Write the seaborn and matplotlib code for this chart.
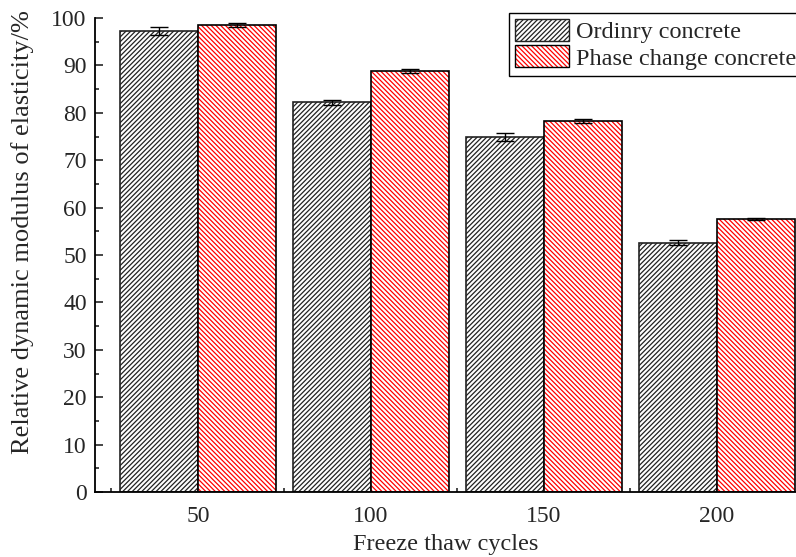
import numpy as np
import pandas as pd
import matplotlib
matplotlib.use('Agg')
import matplotlib.pyplot as plt
import seaborn as sns
from matplotlib.patches import Rectangle, Patch
from matplotlib.ticker import MultipleLocator, FixedLocator

# data
cycles = ['50', '100', '150', '200']
ordinary = [97.3, 82.2, 74.9, 52.6]
ordinary_err = [0.8, 0.5, 0.9, 0.5]
phase = [98.5, 88.8, 78.3, 57.6]
phase_err = [0.5, 0.5, 0.4, 0.2]
groups = ['Ordinry concrete', 'Phase change concrete']

sns.set_style('ticks')
plt.rcParams['font.family'] = ['Liberation Serif', 'DejaVu Serif']
plt.rcParams['hatch.linewidth'] = 0.9

df = pd.DataFrame({
    'cycles': cycles * 2,
    'value': ordinary + phase,
    'group': [groups[0]] * 4 + [groups[1]] * 4,
})

fig = plt.figure(figsize=(7.96, 5.57), dpi=100)
ax = fig.add_axes([95 / 796, 65 / 557, 1 - 95 / 796, 474 / 557])

sns.barplot(data=df, x='cycles', y='value', hue='group', order=cycles,
            hue_order=groups, width=0.9, gap=0, errorbar=None,
            legend=False, ax=ax)

black_bars = ax.containers[0]
red_bars = ax.containers[1]
hatch_black = '/' * 7
hatch_red = '\\' * 7

# ordinary concrete: black hatch
for p in black_bars:
    p.set_facecolor('white')
    p.set_edgecolor('#222222')
    p.set_hatch(hatch_black)
    p.set_linewidth(1.2)

# phase change concrete: red hatch, black outline on top
for p in red_bars:
    p.set_facecolor('white')
    p.set_edgecolor('red')
    p.set_hatch(hatch_red)
    p.set_linewidth(0)
    ax.add_patch(Rectangle((p.get_x(), p.get_y()), p.get_width(), p.get_height(),
                           fill=False, edgecolor='black', lw=1.2, zorder=p.get_zorder() + 0.1))

# error bars
for bars, vals, errs in [(black_bars, ordinary, ordinary_err), (red_bars, phase, phase_err)]:
    xs = [p.get_x() + p.get_width() / 2 for p in bars]
    ax.errorbar(xs, vals, yerr=errs, fmt='none', ecolor='black', elinewidth=1,
                capsize=6.5, capthick=1, zorder=5)

ax.set_xlim(-0.595, 3.457)
ax.set_ylim(0, 100)
ax.yaxis.set_major_locator(MultipleLocator(10))
ax.yaxis.set_minor_locator(MultipleLocator(5))
ax.xaxis.set_minor_locator(FixedLocator([-0.5, 0.5, 1.5, 2.5]))

ax.tick_params(which='major', direction='in', length=6, width=1.2, labelsize=17, pad=6)
ax.tick_params(which='minor', direction='in', length=3, width=1.2)
ax.tick_params(axis='x', which='major', pad=10)

for side in ['top', 'right']:
    ax.spines[side].set_visible(False)
for side in ['left', 'bottom']:
    ax.spines[side].set_linewidth(1.3)
    ax.spines[side].set_color('black')

ax.set_xlabel('Freeze thaw cycles', fontsize=17.5, labelpad=5)
ax.set_ylabel('Relative dynamic modulus of elasticity/%', fontsize=19)
ax.yaxis.set_label_coords(-0.087, 0.549)

h1 = Patch(facecolor='white', edgecolor='#222222', hatch=hatch_black, lw=1.0)
h2 = (Patch(facecolor='white', edgecolor='red', hatch=hatch_red, lw=0),
      Patch(fill=False, edgecolor='black', lw=1.0))
leg = ax.legend([h1, h2], groups, loc='upper left',
                bbox_to_anchor=(509 / 796, 1 - 12.7 / 557), bbox_transform=fig.transFigure,
                fontsize=17.5, frameon=True, fancybox=False, framealpha=1,
                edgecolor='black', handlelength=2.2, handleheight=1.0,
                labelspacing=0.1, borderpad=0.25, handletextpad=0.3, borderaxespad=0)
leg.get_frame().set_linewidth(1.0)

fig.savefig('out.png', dpi=100)
